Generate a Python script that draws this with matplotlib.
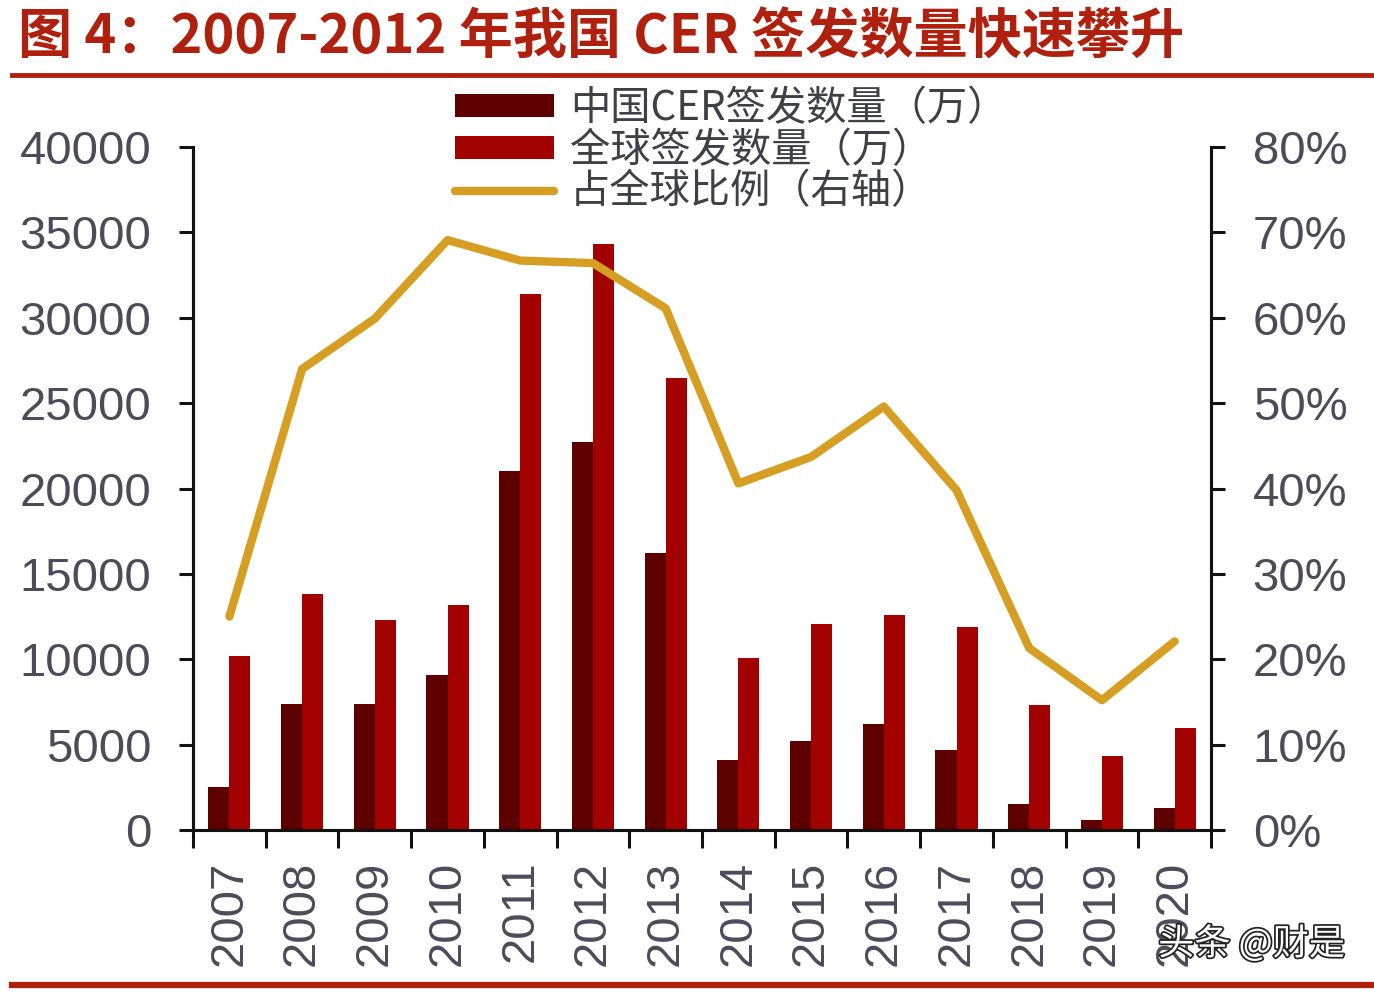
import numpy as np
import matplotlib
matplotlib.use("Agg")
import matplotlib.pyplot as plt
import matplotlib.patheffects as pe
from matplotlib.lines import Line2D

plt.rcParams["font.family"] = ["Liberation Sans", "Noto Sans CJK SC", "DejaVu Sans"]

# data
years = ["2007", "2008", "2009", "2010", "2011", "2012", "2013",
         "2014", "2015", "2016", "2017", "2018", "2019", "2020"]
china_cer = [2500, 7400, 7400, 9100, 21000, 22700, 16200,
             4100, 5200, 6200, 4700, 1500, 600, 1300]
global_cer = [10200, 13800, 12300, 13200, 31400, 34300, 26500,
              10100, 12050, 12600, 11900, 7300, 4350, 6000]
share_pct = [25.0, 54.0, 59.9, 69.1, 66.7, 66.4, 61.1,
             40.6, 43.7, 49.6, 39.8, 21.3, 15.2, 22.1]

left_ticks = [0, 5000, 10000, 15000, 20000, 25000, 30000, 35000, 40000]
right_ticks = [0, 10, 20, 30, 40, 50, 60, 70, 80]

label_names = ["中国CER签发数量（万）", "全球签发数量（万）", "占全球比例（右轴）"]
title = "图 4：2007-2012 年我国 CER 签发数量快速攀升"

dark_red = "#5e0000"
red = "#a30000"
gold = "#d69e22"
tick_color = "#4e4a5a"
title_red = "#b0200e"

fig = plt.figure(figsize=(13.74, 9.92), dpi=100)
ax = fig.add_axes([0.1405, 0.1633, 0.7409, 0.6885])
ax2 = ax.twinx()

x = np.arange(len(years))
w = 0.29
b1 = ax.bar(x - w / 2, china_cer, width=w, color=dark_red, label=label_names[0])
b2 = ax.bar(x + w / 2, global_cer, width=w, color=red, label=label_names[1])
ln, = ax2.plot(x, share_pct, color=gold, lw=6, solid_capstyle="round",
               solid_joinstyle="round", label=label_names[2])

ax.set_xlim(-0.5, len(years) - 0.5)
ax.set_ylim(0, 40000)
ax2.set_ylim(0, 80)

ax.set_yticks(left_ticks)
ax.set_yticklabels([str(v) for v in left_ticks])
ax2.set_yticks(right_ticks)
ax2.set_yticklabels([f"{v}%" for v in right_ticks])

# ticks at category boundaries, labels at centres
ax.set_xticks(np.arange(-0.5, len(years)), minor=False)
ax.set_xticklabels([])
ax.set_xticks(x, minor=True)
ax.set_xticklabels(years, minor=True, rotation=90)
ax.tick_params(axis="x", which="major", direction="out", length=13, width=2.2, color="#111111")
ax.tick_params(axis="x", which="minor", length=0, pad=22, labelsize=34, labelcolor=tick_color)
ax.tick_params(axis="y", direction="out", length=10, width=2.2, color="#111111",
               pad=20, labelsize=34, labelcolor=tick_color)
ax2.tick_params(axis="y", direction="out", length=10, width=2.2, color="#111111",
                pad=20, labelsize=34, labelcolor=tick_color)

for a in (ax, ax2):
    a.spines["top"].set_visible(False)
    for s in ("left", "right", "bottom"):
        a.spines[s].set_linewidth(2.2)
        a.spines[s].set_color("#111111")

leg = fig.legend([b1, b2, ln], label_names, loc="upper left",
                 bbox_to_anchor=(455 / 1374, 1 - 88 / 992), frameon=False,
                 prop={"family": ["Noto Sans CJK SC"], "size": 29, "weight": "light"},
                 handlelength=2.45, handleheight=0.5, handletextpad=0.4,
                 labelspacing=0.02, borderpad=0, borderaxespad=0)
for t in leg.get_texts():
    t.set_color("#3f3f48")

fig.text(0.013, 0.962, title, fontsize=39, fontweight="bold", color=title_red,
         family=["Noto Sans CJK SC", "DejaVu Sans"], va="center", ha="left")

fig.add_artist(Line2D([12 / 1374, 1.0], [1 - 75 / 992] * 2, color=title_red,
                      lw=3.5, transform=fig.transFigure))
fig.add_artist(Line2D([12 / 1374, 1.0], [1 - 985 / 992] * 2, color=title_red,
                      lw=4.5, transform=fig.transFigure))

fig.text(1345 / 1374, 1 - 944 / 992, "头条 @财是", fontsize=26, color="white",
         family=["Noto Sans CJK SC"], ha="right", va="center",
         path_effects=[pe.withStroke(linewidth=2.5, foreground="#222222")])

fig.savefig("out.png", dpi=100, facecolor="white")
